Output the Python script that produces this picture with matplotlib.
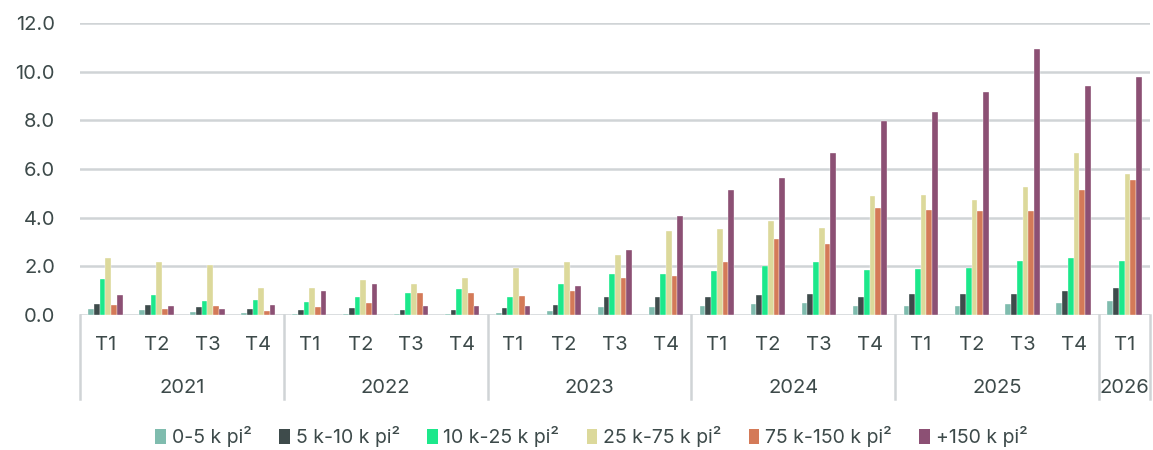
import numpy as np
import matplotlib
matplotlib.use("Agg")
from matplotlib import pyplot as plt
from matplotlib.patches import Patch

plt.rcParams["font.family"] = ["Inter", "DejaVu Sans"]

quarters = ["T1", "T2", "T3", "T4"] * 5 + ["T1"]
years = ["2021", "2022", "2023", "2024", "2025", "2026"]
year_sizes = [4, 4, 4, 4, 4, 1]

series_names = ["0-5 k pi²", "5 k-10 k pi²", "10 k-25 k pi²",
                "25 k-75 k pi²", "75 k-150 k pi²", "+150 k pi²"]
colors = ["#7fbcae", "#3e4b4b", "#1ce88b", "#dcd99b", "#d47a58", "#8c5074"]

s_0_5 = [0.26, 0.19, 0.13, 0.09, 0.03, 0.06, 0.06, 0.03, 0.08, 0.15, 0.31,
         0.34, 0.35, 0.46, 0.50, 0.37, 0.37, 0.39, 0.45, 0.49, 0.56]
s_5_10 = [0.46, 0.42, 0.33, 0.23, 0.21, 0.30, 0.20, 0.20, 0.30, 0.43, 0.74,
          0.72, 0.72, 0.81, 0.87, 0.75, 0.86, 0.86, 0.86, 0.97, 1.11]
s_10_25 = [1.48, 0.83, 0.59, 0.63, 0.53, 0.76, 0.89, 1.08, 0.76, 1.29, 1.67,
           1.68, 1.81, 2.00, 2.18, 1.83, 1.90, 1.93, 2.22, 2.36, 2.22]
s_25_75 = [2.36, 2.18, 2.05, 1.11, 1.11, 1.44, 1.26, 1.52, 1.94, 2.19, 2.47,
           3.45, 3.53, 3.86, 3.56, 4.88, 4.92, 4.71, 5.28, 6.65, 5.80]
s_75_150 = [0.41, 0.26, 0.37, 0.17, 0.32, 0.50, 0.89, 0.89, 0.78, 0.97, 1.52,
            1.62, 2.19, 3.14, 2.90, 4.39, 4.32, 4.28, 4.26, 5.14, 5.55]
s_150 = [0.82, 0.39, 0.24, 0.41, 0.99, 1.29, 0.37, 0.37, 0.35, 1.18, 2.69,
         4.08, 5.14, 5.63, 6.65, 7.99, 8.34, 9.18, 10.93, 9.42, 9.79]

series = [s_0_5, s_5_10, s_10_25, s_25_75, s_75_150, s_150]

text_color = "#3d4a4a"
grid_color = "#d0d4d6"

fig = plt.figure(figsize=(11.53, 4.5), dpi=100)
ax = fig.add_axes([80 / 1153, 135 / 450, 1070 / 1153, 292 / 450])

x = np.arange(len(quarters))
w = 0.112
for i, (vals, c) in enumerate(zip(series, colors)):
    ax.bar(x + (i - 2.5) * w, vals, width=w, color=c, edgecolor="white",
           linewidth=0.25, zorder=3)

ax.set_xlim(-0.5, len(quarters) - 0.5)
ax.set_ylim(0, 12)
ax.set_yticks(np.arange(0, 13, 2))
ax.set_yticklabels([f"{v:.1f}" for v in np.arange(0, 13, 2)])
ax.yaxis.grid(True, color=grid_color, linewidth=1.8)
ax.set_axisbelow(True)
for s in ax.spines.values():
    s.set_visible(False)
ax.tick_params(axis="y", length=0, pad=18, labelsize=14.5, labelcolor=text_color)
ax.set_xticks(x)
ax.set_xticklabels(quarters)
ax.tick_params(axis="x", length=0, pad=15, labelsize=14.5, labelcolor=text_color)

trans = ax.get_xaxis_transform()
bounds = np.concatenate([[0], np.cumsum(year_sizes)]) - 0.5
for b in bounds:
    ax.plot([b, b], [0, -0.288], transform=trans, color=grid_color,
            linewidth=1.8, clip_on=False)
for y, lo, hi in zip(years, bounds[:-1], bounds[1:]):
    ax.text((lo + hi) / 2, -0.25, y, transform=trans, ha="center",
            va="center", fontsize=14.5, color=text_color)

handles = [Patch(facecolor=c, edgecolor="none") for c in colors]
fig.legend(handles, series_names, loc="center", bbox_to_anchor=(0.513, 0.03),
           ncol=6, frameon=False, fontsize=14, handlelength=0.55,
           handleheight=0.85, handletextpad=0.3, columnspacing=1.4,
           labelcolor=text_color)

fig.savefig("out.png", dpi=100)
